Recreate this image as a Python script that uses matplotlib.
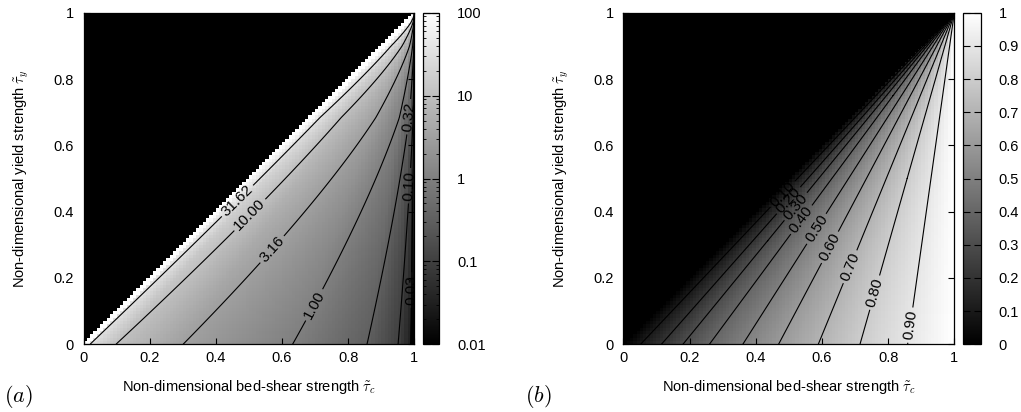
import numpy as np
import matplotlib
matplotlib.use("Agg")
import matplotlib.pyplot as plt
from matplotlib.colors import LogNorm, Normalize
from matplotlib import ticker

plt.rcParams['font.family'] = ['Liberation Sans', 'DejaVu Sans']
plt.rcParams['font.size'] = 10

# ---------------- data ----------------
# panel (a): contour levels and where each contour meets tau_y = 0
a_levels = [31.62, 10.00, 3.162, 1.000, 0.3162, 0.1000, 0.03162]
a_cross = [0.0196, 0.098, 0.301, 0.632, 0.857, 0.951, 0.989]
a_edge_log = [2.5, -2.5]          # log10 value at s = 0 and s = 1
# panel (b): contour levels and where each contour meets tau_y = 0
b_levels = [0.10, 0.20, 0.30, 0.40, 0.50, 0.60, 0.70, 0.80, 0.90]
b_cross = [0.052, 0.115, 0.180, 0.260, 0.361, 0.469, 0.589, 0.715, 0.859]
b_edge = [0.0, 1.0]
axis_ticks = [0, 0.2, 0.4, 0.6, 0.8, 1]
a_cbar_ticks = [0.01, 0.1, 1, 10, 100]
a_cbar_labels = ['0.01', '0.1', '1', '10', '100']
b_cbar_ticks = [0, 0.1, 0.2, 0.3, 0.4, 0.5, 0.6, 0.7, 0.8, 0.9, 1]

# label positions (data coords) for contour labels
a_label_pos = [(0.470, 0.428), (0.498, 0.395), (0.573, 0.284), (0.699, 0.118),
               (0.986, 0.686), (0.990, 0.478), (0.991, 0.164)]
b_label_pos = [(0.483, 0.452), (0.504, 0.430), (0.524, 0.413), (0.539, 0.375),
               (0.589, 0.345), (0.629, 0.290), (0.685, 0.234), (0.766, 0.154),
               (0.866, 0.058)]


def field_a(X, Y):
    with np.errstate(divide='ignore', invalid='ignore'):
        s = (X - Y) / (1 - Y)
        logh = np.interp(s, [0] + a_cross + [1],
                         [a_edge_log[0]] + list(np.log10(a_levels)) + [a_edge_log[1]])
        L = 10 ** logh / (1 - Y)
    return L


def field_b(X, Y):
    with np.errstate(divide='ignore', invalid='ignore'):
        s = (X - Y) / (1 - Y)
        R = np.interp(s, [0] + b_cross + [1], [b_edge[0]] + b_levels + [b_edge[1]])
    return R


fig = plt.figure(figsize=(10.21, 4.12), dpi=100)
W, H = 1021, 412

def fax(x0, x1, y0, y1):
    return [x0 / W, 1 - y1 / H, (x1 - x0) / W, (y1 - y0) / H]

axA = fig.add_axes(fax(83.5, 414.3, 12.7, 344.3))
caxA = fig.add_axes(fax(422.7, 439.0, 12.7, 344.3))
axB = fig.add_axes(fax(623.3, 954.3, 12.7, 344.3))
caxB = fig.add_axes(fax(963.0, 980.7, 12.7, 344.3))

# coarse grid for the shaded cells
N = 100
edges = np.linspace(0, 1, N + 1)
cent = 0.5 * (edges[:-1] + edges[1:])
XC, YC = np.meshgrid(cent, cent)
# fine grid for contours
xf = np.linspace(0, 1, 801)
XF, YF = np.meshgrid(xf, xf)
maskF = (XF <= YF) | (YF >= 1)

cmap = plt.get_cmap('gray').copy()
cmap.set_bad('black')
cmap.set_over('white')
cmap.set_under('black')

# ---- panel (a)
LA = np.ma.masked_where(XC < YC, field_a(XC, YC))
normA = LogNorm(vmin=0.01, vmax=100)
pmA = axA.pcolormesh(edges, edges, LA, cmap=cmap, norm=normA, shading='flat')
LAf = np.ma.masked_where(maskF, field_a(XF, YF))
for lv, pos in zip(a_levels, a_label_pos):
    cs = axA.contour(XF, YF, LAf, levels=[lv], colors='black', linewidths=0.8)
    cs.clabel(manual=[pos], inline=True, inline_spacing=3, fmt='%.2f', fontsize=11)

# ---- panel (b)
RB = np.where(XC < YC, 0.0, field_b(XC, YC))
normB = Normalize(vmin=0, vmax=1)
pmB = axB.pcolormesh(edges, edges, RB, cmap=cmap, norm=normB, shading='flat')
RBf = np.ma.masked_where(maskF, field_b(XF, YF))
for lv, pos in zip(b_levels, b_label_pos):
    cs = axB.contour(XF, YF, RBf, levels=[lv], colors='black', linewidths=0.8)
    cs.clabel(manual=[pos], inline=True, inline_spacing=3, fmt='%.2f', fontsize=11)

for ax in (axA, axB):
    ax.set_xlim(0, 1)
    ax.set_ylim(0, 1)
    ax.set_xticks(axis_ticks)
    ax.set_yticks(axis_ticks)
    ax.xaxis.set_major_formatter(ticker.FormatStrFormatter('%g'))
    ax.yaxis.set_major_formatter(ticker.FormatStrFormatter('%g'))
    ax.tick_params(direction='in', top=True, right=True, length=4, width=0.8,
                   labelsize=10.5)
    ax.tick_params(axis='y', pad=7)
    ax.tick_params(axis='x', pad=5)
    ax.set_xlabel(r'Non-dimensional bed-shear strength $\tilde{\tau}_c$',
                  fontsize=10.5, labelpad=9, math_fontfamily='cm')
    ax.set_ylabel(r'Non-dimensional yield strength $\tilde{\tau}_y$',
                  fontsize=10.5, labelpad=16, math_fontfamily='cm')
    for sp in ax.spines.values():
        sp.set_linewidth(0.9)

cbA = fig.colorbar(pmA, cax=caxA)
cbA.set_ticks(a_cbar_ticks, labels=a_cbar_labels)
cbB = fig.colorbar(pmB, cax=caxB)
cbB.set_ticks(b_cbar_ticks)
cbB.ax.yaxis.set_major_formatter(ticker.FormatStrFormatter('%g'))
for cb in (cbA, cbB):
    cb.outline.set_linewidth(0.9)
    cb.ax.tick_params(which='both', direction='in', left=True, right=True,
                      labelleft=False, labelright=True, labelsize=10.5, pad=13)
    cb.ax.tick_params(which='major', length=5, width=0.8)
    cb.ax.tick_params(which='minor', length=2.5, width=0.6)

fig.text(4 / W, 1 - 397 / H, r'$(a)$', fontsize=16, math_fontfamily='cm', va='center')
fig.text(525 / W, 1 - 397 / H, r'$(b)$', fontsize=16, math_fontfamily='cm', va='center')

fig.savefig('out.png', dpi=100)
